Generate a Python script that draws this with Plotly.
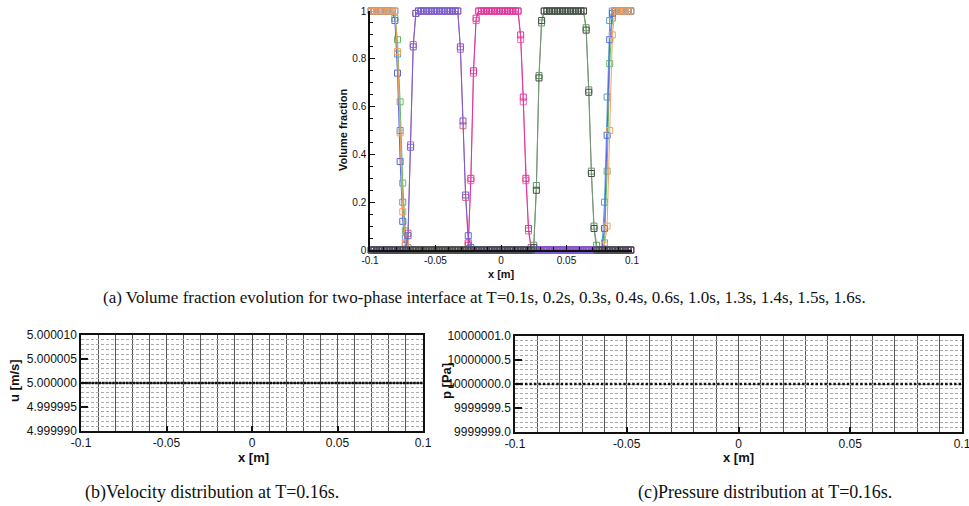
import plotly.graph_objects as go

W, H = 969, 506

# ---------------------------------------------------------------------------
# Grid: 100 uniform cells on [-0.1, 0.1] m, values stored at cell centres
# ---------------------------------------------------------------------------
N_CELLS = 100
x_cells = [round(-0.1 + 0.002 * (i + 0.5), 4) for i in range(N_CELLS)]

# ---------------------------------------------------------------------------
# Volume fraction profiles at the output times (20 values per row)
# ---------------------------------------------------------------------------
alpha_t01 = [
    1, 1, 1, 1, 1, 1, 1, 1, 1, 1, 0.83, 0.49, 0.16, 0.03, 0, 0, 0, 0, 0, 0,
    0, 0, 0, 0, 0, 0, 0, 0, 0, 0, 0, 0, 0, 0, 0, 0, 0, 0, 0, 0,
    0, 0, 0, 0, 0, 0, 0, 0, 0, 0, 0, 0, 0, 0, 0, 0, 0, 0, 0, 0,
    0, 0, 0, 0, 0, 0, 0, 0, 0, 0, 0, 0, 0, 0, 0, 0, 0, 0, 0, 0,
    0, 0, 0, 0, 0, 0, 0, 0, 0, 0.02, 0.1, 0.5, 0.9, 1, 1, 1, 1, 1, 1, 1,
]
alpha_t02 = [
    0, 0, 0, 0, 0, 0, 0, 0, 0, 0, 0, 0, 0, 0, 0.06, 0.43, 0.85, 0.99, 1, 1,
    1, 1, 1, 1, 1, 1, 1, 1, 1, 1, 1, 1, 1, 1, 0.85, 0.54, 0.23, 0.06, 0.01, 0,
    0, 0, 0, 0, 0, 0, 0, 0, 0, 0, 0, 0, 0, 0, 0, 0, 0, 0, 0, 0,
    0, 0, 0, 0, 0, 0, 0, 0, 0, 0, 0, 0, 0, 0, 0, 0, 0, 0, 0, 0,
    0, 0, 0, 0, 0, 0, 0, 0, 0, 0, 0, 0, 0, 0, 0, 0, 0, 0, 0, 0,
]
alpha_t03 = [
    0, 0, 0, 0, 0, 0, 0, 0, 0, 0, 0, 0, 0, 0, 0, 0, 0, 0, 0, 0,
    0, 0, 0, 0, 0, 0, 0, 0, 0, 0, 0, 0, 0, 0, 0, 0, 0, 0.02, 0.3, 0.75,
    0.97, 1, 1, 1, 1, 1, 1, 1, 1, 1, 1, 1, 1, 1, 1, 1, 1, 0.9, 0.64, 0.3,
    0.09, 0.01, 0, 0, 0, 0, 0, 0, 0, 0, 0, 0, 0, 0, 0, 0, 0, 0, 0, 0,
    0, 0, 0, 0, 0, 0, 0, 0, 0, 0, 0, 0, 0, 0, 0, 0, 0, 0, 0, 0,
]
alpha_t04 = [
    0, 0, 0, 0, 0, 0, 0, 0, 0, 0, 0, 0, 0, 0, 0, 0, 0, 0, 0, 0,
    0, 0, 0, 0, 0, 0, 0, 0, 0, 0, 0, 0, 0, 0, 0, 0, 0, 0, 0, 0,
    0, 0, 0, 0, 0, 0, 0, 0, 0, 0, 0, 0, 0, 0, 0, 0, 0, 0, 0, 0,
    0, 0, 0.02, 0.27, 0.73, 0.95, 1, 1, 1, 1, 1, 1, 1, 1, 1, 1, 1, 1, 1, 1,
    1, 1, 0.93, 0.67, 0.33, 0.1, 0.02, 0, 0, 0, 0, 0, 0, 0, 0, 0, 0, 0, 0, 0,
]
alpha_t06 = [
    1, 1, 1, 1, 1, 1, 1, 1, 1, 0.96, 0.74, 0.37, 0.12, 0.02, 0, 0, 0, 0, 0, 0,
    0, 0, 0, 0, 0, 0, 0, 0, 0, 0, 0, 0, 0, 0, 0, 0, 0, 0, 0, 0,
    0, 0, 0, 0, 0, 0, 0, 0, 0, 0, 0, 0, 0, 0, 0, 0, 0, 0, 0, 0,
    0, 0, 0, 0, 0, 0, 0, 0, 0, 0, 0, 0, 0, 0, 0, 0, 0, 0, 0, 0,
    0, 0, 0, 0, 0, 0, 0, 0, 0, 0.09, 0.48, 0.88, 0.99, 1, 1, 1, 1, 1, 1, 1,
]
alpha_t10 = [
    0, 0, 0, 0, 0, 0, 0, 0, 0, 0, 0, 0, 0, 0, 0.07, 0.44, 0.86, 0.99, 1, 1,
    1, 1, 1, 1, 1, 1, 1, 1, 1, 1, 1, 1, 1, 1, 0.84, 0.52, 0.22, 0.03, 0, 0,
    0, 0, 0, 0, 0, 0, 0, 0, 0, 0, 0, 0, 0, 0, 0, 0, 0, 0, 0, 0,
    0, 0, 0, 0, 0, 0, 0, 0, 0, 0, 0, 0, 0, 0, 0, 0, 0, 0, 0, 0,
    0, 0, 0, 0, 0, 0, 0, 0, 0, 0, 0, 0, 0, 0, 0, 0, 0, 0, 0, 0,
]
alpha_t13 = [
    0, 0, 0, 0, 0, 0, 0, 0, 0, 0, 0, 0, 0, 0, 0, 0, 0, 0, 0, 0,
    0, 0, 0, 0, 0, 0, 0, 0, 0, 0, 0, 0, 0, 0, 0, 0, 0, 0.03, 0.29, 0.74,
    0.96, 1, 1, 1, 1, 1, 1, 1, 1, 1, 1, 1, 1, 1, 1, 1, 1, 0.88, 0.62, 0.29,
    0.08, 0, 0, 0, 0, 0, 0, 0, 0, 0, 0, 0, 0, 0, 0, 0, 0, 0, 0, 0,
    0, 0, 0, 0, 0, 0, 0, 0, 0, 0, 0, 0, 0, 0, 0, 0, 0, 0, 0, 0,
]
alpha_t14 = [
    0, 0, 0, 0, 0, 0, 0, 0, 0, 0, 0, 0, 0, 0, 0, 0, 0, 0, 0, 0,
    0, 0, 0, 0, 0, 0, 0, 0, 0, 0, 0, 0, 0, 0, 0, 0, 0, 0, 0, 0,
    0, 0, 0, 0, 0, 0, 0, 0, 0, 0, 0, 0, 0, 0, 0, 0, 0, 0, 0, 0,
    0, 0, 0.01, 0.25, 0.72, 0.96, 1, 1, 1, 1, 1, 1, 1, 1, 1, 1, 1, 1, 1, 1,
    1, 1, 0.92, 0.66, 0.32, 0.09, 0, 0, 0, 0, 0, 0, 0, 0, 0, 0, 0, 0, 0, 0,
]
alpha_t15 = [
    1, 1, 1, 1, 1, 1, 1, 1, 1, 1, 0.82, 0.5, 0.2, 0.05, 0, 0, 0, 0, 0, 0,
    0, 0, 0, 0, 0, 0, 0, 0, 0, 0, 0, 0, 0, 0, 0, 0, 0, 0, 0, 0,
    0, 0, 0, 0, 0, 0, 0, 0, 0, 0, 0, 0, 0, 0, 0, 0, 0, 0, 0, 0,
    0, 0, 0, 0, 0, 0, 0, 0, 0, 0, 0, 0, 0, 0, 0, 0, 0, 0, 0, 0,
    0, 0, 0, 0, 0, 0, 0, 0, 0, 0.2, 0.64, 0.96, 1, 1, 1, 1, 1, 1, 1, 1,
]
alpha_t16 = [
    1, 1, 1, 1, 1, 1, 1, 1, 1, 0.97, 0.88, 0.62, 0.28, 0.08, 0.01, 0, 0, 0, 0, 0,
    0, 0, 0, 0, 0, 0, 0, 0, 0, 0, 0, 0, 0, 0, 0, 0, 0, 0, 0, 0,
    0, 0, 0, 0, 0, 0, 0, 0, 0, 0, 0, 0, 0, 0, 0, 0, 0, 0, 0, 0,
    0, 0, 0, 0, 0, 0, 0, 0, 0, 0, 0, 0, 0, 0, 0, 0, 0, 0, 0, 0,
    0, 0, 0, 0, 0, 0, 0, 0, 0, 0.03, 0.33, 0.78, 0.97, 1, 1, 1, 1, 1, 1, 1,
]

# ---------------------------------------------------------------------------
# Velocity and pressure at T = 0.16 s
# ---------------------------------------------------------------------------
u_t016 = [
    5.0, 5.0, 5.0, 5.0, 5.0, 5.0, 5.0, 5.0, 5.0, 5.0, 5.0, 5.0, 5.0, 5.0, 5.0, 5.0, 5.0, 5.0, 5.0, 5.0,
    5.0, 5.0, 5.0, 5.0, 5.0, 5.0, 5.0, 5.0, 5.0, 5.0, 5.0, 5.0, 5.0, 5.0, 5.0, 5.0, 5.0, 5.0, 5.0, 5.0,
    5.0, 5.0, 5.0, 5.0, 5.0, 5.0, 5.0, 5.0, 5.0, 5.0, 5.0, 5.0, 5.0, 5.0, 5.0, 5.0, 5.0, 5.0, 5.0, 5.0,
    5.0, 5.0, 5.0, 5.0, 5.0, 5.0, 5.0, 5.0, 5.0, 5.0, 5.0, 5.0, 5.0, 5.0, 5.0, 5.0, 5.0, 5.0, 5.0, 5.0,
    5.0, 5.0, 5.0, 5.0, 5.0, 5.0, 5.0, 5.0, 5.0, 5.0, 5.0, 5.0, 5.0, 5.0, 5.0, 5.0, 5.0, 5.0, 5.0, 5.0,
]
p_t016 = [
    1e7, 1e7, 1e7, 1e7, 1e7, 1e7, 1e7, 1e7, 1e7, 1e7, 1e7, 1e7, 1e7, 1e7, 1e7, 1e7, 1e7, 1e7, 1e7, 1e7,
    1e7, 1e7, 1e7, 1e7, 1e7, 1e7, 1e7, 1e7, 1e7, 1e7, 1e7, 1e7, 1e7, 1e7, 1e7, 1e7, 1e7, 1e7, 1e7, 1e7,
    1e7, 1e7, 1e7, 1e7, 1e7, 1e7, 1e7, 1e7, 1e7, 1e7, 1e7, 1e7, 1e7, 1e7, 1e7, 1e7, 1e7, 1e7, 1e7, 1e7,
    1e7, 1e7, 1e7, 1e7, 1e7, 1e7, 1e7, 1e7, 1e7, 1e7, 1e7, 1e7, 1e7, 1e7, 1e7, 1e7, 1e7, 1e7, 1e7, 1e7,
    1e7, 1e7, 1e7, 1e7, 1e7, 1e7, 1e7, 1e7, 1e7, 1e7, 1e7, 1e7, 1e7, 1e7, 1e7, 1e7, 1e7, 1e7, 1e7, 1e7,
]

x_ticks = [-0.1, -0.05, 0, 0.05, 0.1]
x_ticklabels = ["-0.1", "-0.05", "0", "0.05", "0.1"]
vf_ticks = [0, 0.2, 0.4, 0.6, 0.8, 1]
vf_ticklabels = ["0", "0.2", "0.4", "0.6", "0.8", "1"]

# drawing order: last one ends up on top
profiles = [
    ("T=1.5s", alpha_t15, "#4f9fd6", "#4f9fd6"),
    ("T=1.6s", alpha_t16, "#68b868", "#68b868"),
    ("T=0.6s", alpha_t06, "#5566de", "#5566de"),
    ("T=0.1s", alpha_t01, "#f5a25a", "#f5a25a"),
    ("T=1.0s", alpha_t10, "#de6480", "#de6480"),
    ("T=1.3s", alpha_t13, "#ec6cbc", "#ec6cbc"),
    ("T=0.3s", alpha_t03, "#e0349a", "#e0349a"),
    ("T=0.4s", alpha_t04, "#5f9e5f", "#5f9e5f"),
    ("T=0.2s", alpha_t02, "#6f60d8", "#6f60d8"),
    ("T=1.4s", alpha_t14, "#7f937f", "#4a4a4a"),
]

SANS = "Liberation Sans, Arial, sans-serif"
SERIF = "Liberation Serif, Times New Roman, serif"


def dom_x(left_px, right_px):
    return [left_px / W, right_px / W]


def dom_y(top_px, bottom_px):
    return [1 - bottom_px / H, 1 - top_px / H]


fig = go.Figure()

# (a) volume fraction
for name, vals, line_col, mark_col in profiles:
    fig.add_trace(go.Scatter(
        x=x_cells, y=vals, name=name, mode="lines+markers",
        xaxis="x", yaxis="y", cliponaxis=False,
        line=dict(color=line_col, width=1),
        marker=dict(symbol="square-open", size=6, color=mark_col,
                    line=dict(width=1, color=mark_col)),
        showlegend=False,
    ))

# (b) velocity
fig.add_trace(go.Scatter(
    x=x_cells, y=u_t016, name="u", mode="lines+markers", xaxis="x2", yaxis="y2",
    line=dict(color="#222222", width=1),
    marker=dict(symbol="square", size=2.5, color="#111111"),
    showlegend=False,
))

# (c) pressure
fig.add_trace(go.Scatter(
    x=x_cells, y=p_t016, name="p", mode="markers", xaxis="x3", yaxis="y3",
    marker=dict(symbol="square", size=2.5, color="#111111"),
    showlegend=False,
))

tick_font_small = dict(family=SANS, size=10, color="#111111")
tick_font = dict(family=SANS, size=12, color="#111111")

fig.update_layout(
    width=W, height=H,
    margin=dict(l=0, r=0, t=0, b=0, autoexpand=False),
    paper_bgcolor="white", plot_bgcolor="white",
    xaxis=dict(
        domain=dom_x(370, 632), anchor="y", range=[-0.1, 0.1], automargin=False,
        tickmode="array", tickvals=x_ticks, ticktext=x_ticklabels,
        ticks="inside", ticklen=5, tickwidth=1, tickcolor="#111111",
        minor=dict(dtick=0.01, tick0=-0.1, ticks="inside", ticklen=3, tickcolor="#111111"),
        showline=True, linecolor="#111111", linewidth=1.5, mirror=False,
        showgrid=False, zeroline=False, tickfont=tick_font_small,
        ticklabeloverflow="allow",
    ),
    yaxis=dict(
        domain=dom_y(11, 250), anchor="x", range=[0, 1], automargin=False,
        tickmode="array", tickvals=vf_ticks, ticktext=vf_ticklabels,
        ticks="inside", ticklen=5, tickwidth=1, tickcolor="#111111",
        minor=dict(dtick=0.05, tick0=0, ticks="inside", ticklen=3, tickcolor="#111111"),
        showline=True, linecolor="#111111", linewidth=1.5, mirror=False,
        showgrid=False, zeroline=False, tickfont=tick_font_small,
        ticklabeloverflow="allow",
    ),
    xaxis2=dict(
        domain=dom_x(81, 423), anchor="y2", range=[-0.1, 0.1], automargin=False,
        tickmode="array", tickvals=x_ticks, ticktext=x_ticklabels,
        ticks="inside", ticklen=5, tickwidth=1.5, tickcolor="#111111",
        showgrid=True, gridcolor="#555555", gridwidth=1,
        minor=dict(dtick=0.01, tick0=-0.1, showgrid=True, gridcolor="#555555", gridwidth=1),
        showline=True, linecolor="#111111", linewidth=1.5, mirror=True,
        zeroline=False, tickfont=tick_font, ticklabeloverflow="allow",
    ),
    yaxis2=dict(
        domain=dom_y(335, 431), anchor="x2", range=[4.99999, 5.00001], automargin=False,
        tick0=5.0, dtick=0.000005, tickformat=".6f",
        ticks="inside", ticklen=7, tickwidth=1.5, tickcolor="#111111",
        showgrid=True, gridcolor="#aaaaaa", gridwidth=1, griddash="3px,2px",
        minor=dict(dtick=0.000001, tick0=5.0, showgrid=True, gridcolor="#aaaaaa",
                   gridwidth=1, griddash="3px,2px"),
        showline=True, linecolor="#111111", linewidth=1.5, mirror=True,
        zeroline=False, tickfont=tick_font, ticklabeloverflow="allow",
    ),
    xaxis3=dict(
        domain=dom_x(515, 962), anchor="y3", range=[-0.1, 0.1], automargin=False,
        tickmode="array", tickvals=x_ticks, ticktext=x_ticklabels,
        ticks="inside", ticklen=5, tickwidth=1.5, tickcolor="#111111",
        showgrid=True, gridcolor="#555555", gridwidth=1,
        minor=dict(dtick=0.01, tick0=-0.1, showgrid=True, gridcolor="#555555", gridwidth=1),
        showline=True, linecolor="#111111", linewidth=1.5, mirror=True,
        zeroline=False, tickfont=tick_font, ticklabeloverflow="allow",
    ),
    yaxis3=dict(
        domain=dom_y(336, 432), anchor="x3", range=[9999999.0, 10000001.0], automargin=False,
        tick0=10000000.0, dtick=0.5, tickformat=".1f",
        ticks="inside", ticklen=7, tickwidth=1.5, tickcolor="#111111",
        showgrid=True, gridcolor="#aaaaaa", gridwidth=1, griddash="3px,2px",
        minor=dict(dtick=0.1, tick0=10000000.0, showgrid=True, gridcolor="#aaaaaa",
                   gridwidth=1, griddash="3px,2px"),
        showline=True, linecolor="#111111", linewidth=1.5, mirror=True,
        zeroline=False, tickfont=tick_font, ticklabeloverflow="allow",
    ),
)

annotations = [
    # axis titles
    dict(text="<b>Volume fraction</b>", x=343 / W, y=1 - 130 / H, textangle=-90,
         font=dict(family=SANS, size=11, color="#111111")),
    dict(text="<b>x [m]</b>", x=501 / W, y=1 - 274 / H,
         font=dict(family=SANS, size=11, color="#111111")),
    dict(text="<b>u [m/s]</b>", x=14 / W, y=1 - 381 / H, textangle=-90,
         font=dict(family=SANS, size=13, color="#111111")),
    dict(text="<b>x [m]</b>", x=253 / W, y=1 - 457 / H,
         font=dict(family=SANS, size=13, color="#111111")),
    dict(text="<b>p [Pa]</b>", x=446 / W, y=1 - 381 / H, textangle=-90,
         font=dict(family=SANS, size=13, color="#111111")),
    dict(text="<b>x [m]</b>", x=738 / W, y=1 - 457 / H,
         font=dict(family=SANS, size=13, color="#111111")),
    # captions
    dict(text="(a) Volume fraction evolution for two-phase interface at T=0.1s, 0.2s, 0.3s, "
              "0.4s, 0.6s, 1.0s, 1.3s, 1.4s, 1.5s, 1.6s.",
         x=485 / W, y=1 - 297 / H, font=dict(family=SERIF, size=17, color="#111111")),
    dict(text="(b)Velocity distribution at T=0.16s.", x=212 / W, y=1 - 492 / H,
         font=dict(family=SERIF, size=18, color="#111111")),
    dict(text="(c)Pressure distribution at T=0.16s.", x=765 / W, y=1 - 492 / H,
         font=dict(family=SERIF, size=18, color="#111111")),
]
for a in annotations:
    a.update(xref="paper", yref="paper", showarrow=False, xanchor="center", yanchor="middle")
fig.update_layout(annotations=annotations)

fig.write_html("out.html")
